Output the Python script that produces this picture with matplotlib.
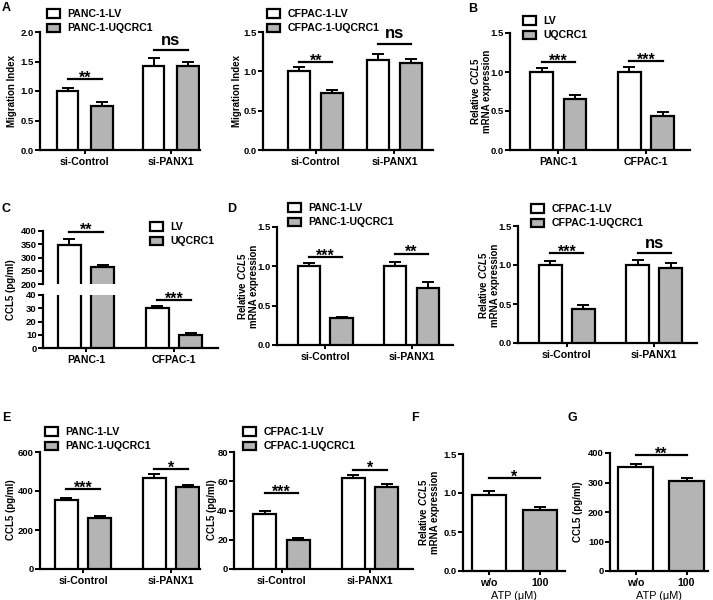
import matplotlib
matplotlib.use('Agg')
import matplotlib.pyplot as plt
import numpy as np

plt.rcParams['font.family'] = ['Liberation Sans', 'DejaVu Sans']
plt.rcParams['font.weight'] = 'bold'
plt.rcParams['mathtext.fontset'] = 'custom'
plt.rcParams['mathtext.rm'] = 'Liberation Sans:bold'
plt.rcParams['mathtext.it'] = 'Liberation Sans:italic:bold'
plt.rcParams['mathtext.bf'] = 'Liberation Sans:bold'

W, H = 713, 600
GRAY = '#b4b4b4'

# ---- data ----
grp_si = ['si-Control', 'si-PANX1']
grp_cell = ['PANC-1', 'CFPAC-1']
grp_atp = ['w/o', '100']

a1_lv = [1.00, 1.43]; a1_lv_err = [0.05, 0.13]
a1_uq = [0.75, 1.42]; a1_uq_err = [0.06, 0.07]
a2_lv = [1.00, 1.14]; a2_lv_err = [0.05, 0.08]
a2_uq = [0.72, 1.10]; a2_uq_err = [0.04, 0.06]

b_lv = [1.00, 1.00]; b_lv_err = [0.05, 0.06]
b_uq = [0.66, 0.44]; b_uq_err = [0.04, 0.05]

c_lv = [348, 30.5]; c_lv_err = [20, 1.5]
c_uq = [263, 10.0]; c_uq_err = [7, 1.2]

d1_lv = [1.00, 1.00]; d1_lv_err = [0.04, 0.06]
d1_uq = [0.34, 0.72]; d1_uq_err = [0.02, 0.08]
d2_lv = [1.00, 1.00]; d2_lv_err = [0.05, 0.07]
d2_uq = [0.44, 0.96]; d2_uq_err = [0.05, 0.07]

e1_lv = [354, 467]; e1_lv_err = [12, 18]
e1_uq = [263, 420]; e1_uq_err = [8, 9]
e2_lv = [37.6, 62.2]; e2_lv_err = [1.8, 2.0]
e2_uq = [20.0, 56.0]; e2_uq_err = [1.5, 2.0]

f_vals = [0.98, 0.78]; f_err = [0.05, 0.045]
g_vals = [352, 306]; g_err = [10, 10]

# significance: (group, height, label)
a1_sig = [(0, 1.20, '**'), (1, 1.69, 'ns')]
a2_sig = [(0, 1.12, '**'), (1, 1.35, 'ns')]
b_sig = [(0, 1.13, '***'), (1, 1.14, '***')]
d1_sig = [(0, 1.12, '***'), (1, 1.16, '**')]
d2_sig = [(0, 1.15, '***'), (1, 1.15, 'ns')]
e1_sig = [(0, 410, '***'), (1, 513, '*')]
e2_sig = [(0, 52, '***'), (1, 68, '*')]

fig = plt.figure(figsize=(W / 100, H / 100), dpi=100)


def box(x0, y0, x1, y1):
    return fig.add_axes([x0 / W, 1 - y1 / H, (x1 - x0) / W, (y1 - y0) / H])


def style(ax, ylim, yticks, fmt, bottom=True):
    ax.set_ylim(*ylim)
    ax.set_yticks(yticks)
    ax.set_yticklabels([fmt.format(t) for t in yticks])
    for s in ['top', 'right']:
        ax.spines[s].set_visible(False)
    for s in ['left', 'bottom']:
        ax.spines[s].set_linewidth(1.6)
    if not bottom:
        ax.spines['bottom'].set_visible(False)
        ax.set_xticks([])
    ax.tick_params(axis='y', length=3.5, width=1.4, labelsize=6.8, pad=1)
    ax.tick_params(axis='x', length=3, width=1.4, labelsize=7.6, pad=2)


def sigline(ax, x0, x1, h, lab):
    ax.plot([x0, x1], [h, h], color='black', lw=1.6, clip_on=False)
    if lab == 'ns':
        ax.annotate(lab, ((x0 + x1) / 2, h), xytext=(0, 4), textcoords='offset points',
                    ha='center', va='baseline', fontsize=12, annotation_clip=False)
    else:
        ax.annotate(lab, ((x0 + x1) / 2, h), xytext=(0, -2.5), textcoords='offset points',
                    ha='center', va='baseline', fontsize=11.5, annotation_clip=False)


def pair_panel(ax, lv, lv_err, uq, uq_err, cats, xlim, w=0.26, off=0.19, sig=()):
    x = np.arange(len(cats))
    b1 = ax.bar(x - off, lv, w, color='white', edgecolor='black', lw=1.6, zorder=3)
    b2 = ax.bar(x + off, uq, w, color=GRAY, edgecolor='black', lw=1.6, zorder=3)
    ax.errorbar(x - off, lv, yerr=[np.zeros(len(lv)), lv_err], fmt='none', ecolor='black',
                elinewidth=1.4, capsize=4.5, capthick=1.4, zorder=2)
    ax.errorbar(x + off, uq, yerr=[np.zeros(len(uq)), uq_err], fmt='none', ecolor='black',
                elinewidth=1.4, capsize=4.5, capthick=1.4, zorder=2)
    ax.set_xlim(*xlim)
    ax.set_xticks(x)
    ax.set_xticklabels(cats)
    for g, h, lab in sig:
        sigline(ax, g - off, g + off, h, lab)
    return b1, b2


def legend(ax, handles, labels, x, y):
    ax.legend(handles, labels, loc='upper left', bbox_to_anchor=(x / W, 1 - y / H),
              bbox_transform=fig.transFigure, frameon=False, fontsize=7.6,
              handlelength=1.2, handleheight=0.85, labelspacing=0.42, borderpad=0,
              borderaxespad=0, handletextpad=0.75)


def ylab(text, x, y):
    fig.text(x / W, 1 - y / H, text, rotation=90, ha='center', va='center', fontsize=7)


def ylab2(x1, x2, y):
    fig.text(x1 / W, 1 - y / H, 'Relative $\\mathit{CCL5}$', rotation=90, ha='center',
             va='center', fontsize=7)
    fig.text(x2 / W, 1 - y / H, 'mRNA expression', rotation=90, ha='center',
             va='center', fontsize=7)


def letter(t, x, y):
    fig.text(x / W, 1 - y / H, t, ha='left', va='top', fontsize=9)


# ---- A left ----
ax = box(40, 32, 200, 150)
h = pair_panel(ax, a1_lv, a1_lv_err, a1_uq, a1_uq_err, grp_si, (-0.52, 1.34), w=0.25, off=0.2, sig=a1_sig)
style(ax, (0, 2.0), [0, 0.5, 1.0, 1.5, 2.0], '{:.1f}')
legend(ax, h, ['PANC-1-LV', 'PANC-1-UQCRC1'], 47, 9)
ylab('Migration Index', 12, 91)
letter('A', 2, 2)

# ---- A right ----
ax = box(263, 32, 433, 150)
h = pair_panel(ax, a2_lv, a2_lv_err, a2_uq, a2_uq_err, grp_si, (-0.67, 1.49), w=0.28, off=0.21, sig=a2_sig)
style(ax, (0, 1.5), [0, 0.5, 1.0, 1.5], '{:.1f}')
legend(ax, h, ['CFPAC-1-LV', 'CFPAC-1-UQCRC1'], 267, 9)
ylab('Migration Index', 237, 91)

# ---- B ----
ax = box(510, 33, 690, 150)
h = pair_panel(ax, b_lv, b_lv_err, b_uq, b_uq_err, grp_cell, (-0.55, 1.50), sig=b_sig)
style(ax, (0, 1.5), [0, 0.5, 1.0, 1.5], '{:.1f}')
legend(ax, h, ['LV', 'UQCRC1'], 523, 16)
ylab2(475, 487, 91)
letter('B', 468, 3)

# ---- C (broken axis) ----
ax_up = box(43, 231, 218, 284)
ax_lo = box(43, 295, 218, 348)
h = pair_panel(ax_up, c_lv, c_lv_err, c_uq, c_uq_err, grp_cell, (-0.49, 1.5))
pair_panel(ax_lo, c_lv, c_lv_err, c_uq, c_uq_err, grp_cell, (-0.49, 1.5))
style(ax_up, (200, 400), [200, 250, 300, 350, 400], '{:d}', bottom=False)
style(ax_lo, (0, 40), [0, 10, 20, 30, 40], '{:d}')
sigline(ax_up, -0.19, 0.19, 397, '**')
sigline(ax_lo, 1 - 0.19, 1 + 0.19, 36, '***')
legend(ax_up, h, ['LV', 'UQCRC1'], 150, 222)
ylab('CCL5 (pg/ml)', 11, 290)
letter('C', 2, 203)

# ---- D left ----
ax = box(277, 227, 453, 345)
h = pair_panel(ax, d1_lv, d1_lv_err, d1_uq, d1_uq_err, grp_si, (-0.56, 1.48), sig=d1_sig)
style(ax, (0, 1.5), [0, 0.5, 1.0, 1.5], '{:.1f}')
legend(ax, h, ['PANC-1-LV', 'PANC-1-UQCRC1'], 288, 203)
ylab2(242, 254, 286)
letter('D', 227, 203)

# ---- D right ----
ax = box(518, 226, 697, 343)
h = pair_panel(ax, d2_lv, d2_lv_err, d2_uq, d2_uq_err, grp_si, (-0.56, 1.49), sig=d2_sig)
style(ax, (0, 1.5), [0, 0.5, 1.0, 1.5], '{:.1f}')
legend(ax, h, ['CFPAC-1-LV', 'CFPAC-1-UQCRC1'], 531, 204)
ylab2(483, 495, 285)

# ---- E left ----
ax = box(40, 452, 200, 569)
h = pair_panel(ax, e1_lv, e1_lv_err, e1_uq, e1_uq_err, grp_si, (-0.49, 1.33), sig=e1_sig)
style(ax, (0, 600), [0, 200, 400, 600], '{:d}')
legend(ax, h, ['PANC-1-LV', 'PANC-1-UQCRC1'], 45, 427)
ylab('CCL5 (pg/ml)', 11, 510)
letter('E', 2, 412)

# ---- E right ----
ax = box(234, 452, 413, 569)
h = pair_panel(ax, e2_lv, e2_lv_err, e2_uq, e2_uq_err, grp_si, (-0.54, 1.49), sig=e2_sig)
style(ax, (0, 80), [0, 20, 40, 60, 80], '{:d}')
legend(ax, h, ['CFPAC-1-LV', 'CFPAC-1-UQCRC1'], 243, 427)
ylab('CCL5 (pg/ml)', 212, 510)


def single_panel(ax, vals, err, cats, xlim, w):
    x = np.arange(len(cats))
    ax.bar(x, vals, w, color=['white', GRAY], edgecolor='black', lw=1.6, zorder=3)
    ax.errorbar(x, vals, yerr=[np.zeros(len(vals)), err], fmt='none', ecolor='black',
                elinewidth=1.4, capsize=4.5, capthick=1.4, zorder=2)
    ax.set_xlim(*xlim)
    ax.set_xticks(x)
    ax.set_xticklabels(cats)
    ax.set_xlabel('ATP (\u03bcM)', fontsize=7.8, labelpad=2)


# ---- F ----
ax = box(463, 454, 565, 571)
single_panel(ax, f_vals, f_err, grp_atp, (-0.5, 1.48), 0.66)
style(ax, (0, 1.5), [0, 0.5, 1.0, 1.5], '{:.1f}')
sigline(ax, 0, 1, 1.19, '*')
ylab2(423, 435, 512)
letter('F', 411, 412)

# ---- G ----
ax = box(610, 453, 708, 571)
single_panel(ax, g_vals, g_err, grp_atp, (-0.5, 1.42), 0.69)
style(ax, (0, 400), [0, 100, 200, 300, 400], '{:d}')
sigline(ax, 0, 1, 393, '**')
ylab('CCL5 (pg/ml)', 578, 512)
letter('G', 567, 412)

fig.savefig('out.png', dpi=100)
